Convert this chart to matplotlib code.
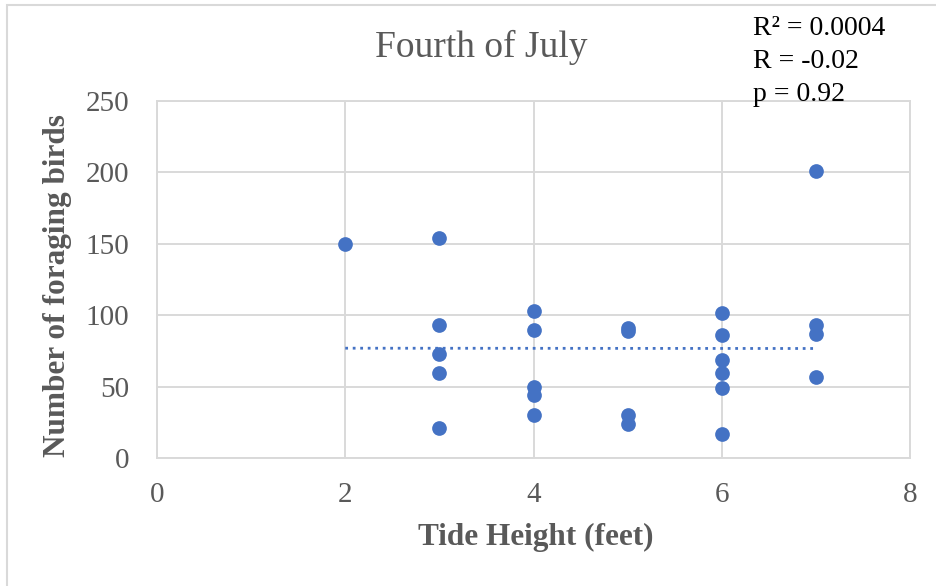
import numpy as np
import matplotlib.pyplot as plt
from matplotlib.patches import Rectangle

# tide height (feet) and number of foraging birds
tide = [2,
        3, 3, 3, 3, 3,
        4, 4, 4, 4, 4,
        5, 5, 5, 5,
        6, 6, 6, 6, 6, 6,
        7, 7, 7, 7]
birds = [150,
         154, 93, 73, 60, 21,
         103, 90, 50, 44, 30,
         91, 89, 30, 24,
         102, 86, 69, 60, 49, 17,
         201, 93, 87, 57]
stats_lines = ["R² = 0.0004", "R = -0.02", "p = 0.92"]

plt.rcParams['font.family'] = ['Liberation Serif', 'DejaVu Serif']

W, H = 936, 586
fig = plt.figure(figsize=(W/100, H/100), dpi=100)
ax = fig.add_axes([157/W, 1-458.3/H, 753/W, 357.3/H])

blue = '#4472C4'
ax.scatter(tide, birds, s=112, color=blue, zorder=3, linewidths=0, clip_on=False)

# linear trendline
m, b = np.polyfit(tide, birds, 1)
xs = np.array([min(tide), max(tide)])
ax.plot(xs, m*xs + b, color=blue, linestyle=(0, (1, 1.7)), linewidth=2, zorder=2)

ax.set_xlim(0, 8)
ax.set_ylim(0, 250)
ax.set_xticks(range(0, 9, 2))
ax.set_yticks(range(0, 251, 50))
ax.grid(True, color='#d9d9d9', linewidth=1.4)
ax.set_axisbelow(True)
for s in ax.spines.values():
    s.set_color('#d9d9d9')
    s.set_linewidth(1.4)
ax.tick_params(length=0, labelsize=21, labelcolor='#595959')
ax.tick_params(axis='y', pad=20)
ax.tick_params(axis='x', pad=17)

fig.text(535.5/W, 1-537/H, "Tide Height (feet)", ha='center', va='center',
         fontsize=22.5, fontweight='bold', color='#595959')
fig.text(58/W, 1-286/H, "Number of foraging birds", ha='center', va='center', rotation=90,
         fontsize=22.5, fontweight='bold', color='#595959')
fig.text(481/W, 1-47/H, "Fourth of July", ha='center', va='center', fontsize=27, color='#595959')

# chart border (cropped at right and bottom)
fig.patches.append(Rectangle((7/W, -0.05), 1.1, 1.05 + 1 - 5/H - 1, transform=fig.transFigure,
                             fill=False, edgecolor='#d9d9d9', linewidth=1.5))

for i, line in enumerate(stats_lines):
    fig.text(753/W, 1-(35 + i*33)/H, line, fontsize=20, color='black',
             va='baseline', ha='left', zorder=6)

fig.savefig("out.png", dpi=100)
